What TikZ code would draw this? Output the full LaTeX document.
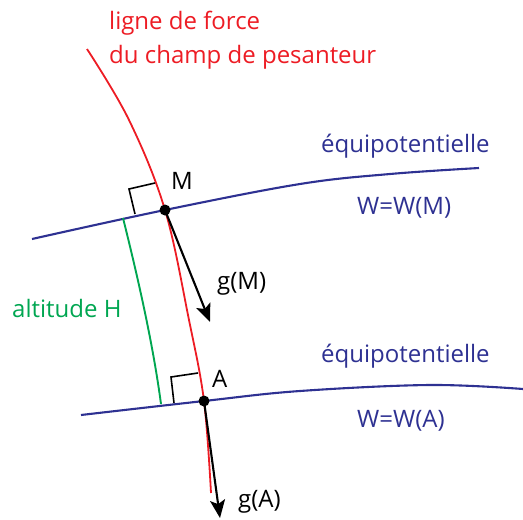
\documentclass[tikz,border=0pt]{standalone}
\usepackage{fontspec}
\setmainfont{Open Sans}
\usetikzlibrary{arrows.meta}
\definecolor{fred}{RGB}{237,28,36}
\definecolor{fblue}{RGB}{46,49,146}
\definecolor{fgreen}{RGB}{0,166,81}
\begin{document}
\begin{tikzpicture}[x=1pt,y=-1pt,
  lbl/.style={inner sep=0pt,anchor=base west,font=\fontsize{24}{28}\selectfont},
  eqline/.style={fblue,line width=2.1pt},
  vec/.style={black,line width=2.1pt,-{Stealth[length=18pt,width=15pt,inset=4pt]}},
  rmark/.style={black,line width=1.6pt},
  pt/.style={circle,fill=black,inner sep=0pt,minimum size=11pt}]
\useasboundingbox (0,0) rectangle (523,520);
% key points
\coordinate (M) at (165,210);
\coordinate (A) at (204,401);
\coordinate (R0) at (87,49);
\coordinate (R1) at (129,120);
\coordinate (R2) at (189,320);
\coordinate (R3) at (211,493);
\coordinate (U0) at (32,239);
\coordinate (U1) at (300,184);
\coordinate (U2) at (390,174);
\coordinate (U3) at (479,168);
\coordinate (L0) at (81,415);
\coordinate (L1) at (300,391);
\coordinate (L2) at (430,385);
\coordinate (L3) at (523,389);
\coordinate (G0) at (123,218);
\coordinate (G1) at (161,404);
\coordinate (gMtip) at (210,322);
\coordinate (gAtip) at (220,518);
% equipotentials
\draw[eqline] plot[smooth,tension=0.6] coordinates {(U0) (M) (U1) (U2) (U3)};
\draw[eqline] plot[smooth,tension=0.6] coordinates {(L0) (A) (L1) (L2) (L3)};
% field line
\draw[fred,line width=1.8pt] plot[smooth,tension=0.6] coordinates {(R0) (R1) (M) (R2) (A) (R3)};
% altitude
\draw[fgreen,line width=1.9pt] (G0) .. controls (138,278) and (153,344) .. (G1);
% right angle marks
\draw[rmark] (135,214) -- (129,189) -- (155,183);
\draw[rmark] (174,403) -- (171,377) -- (198,373);
% vectors
\draw[vec] (M) -- (gMtip);
\draw[vec] (A) -- (gAtip);
\node[pt] (dM) at (M) {};
\node[pt] (dA) at (A) {};
% labels
\node[lbl,text=fred] (t1) at (109,29) {ligne de force};
\node[lbl,text=fred] (t2) at (109,63) {du champ de pesanteur};
\node[lbl,text=fblue] (e1) at (321,152) {équipotentielle};
\node[lbl,text=fblue] (w1) at (357,214) {W=W(M)};
\node[lbl,text=fblue] (e2) at (321,362) {équipotentielle};
\node[lbl,text=fblue] (w2) at (357,427) {W=W(A)};
\node[lbl,text=fgreen] (h) at (12,317) {altitude H};
\node[lbl] (lM) at (171,189) {M};
\node[lbl] (lA) at (212,387) {A};
\node[lbl] (lgM) at (217,289) {g(M)};
\node[lbl] (lgA) at (238,507) {g(A)};
\end{tikzpicture}
\end{document}
